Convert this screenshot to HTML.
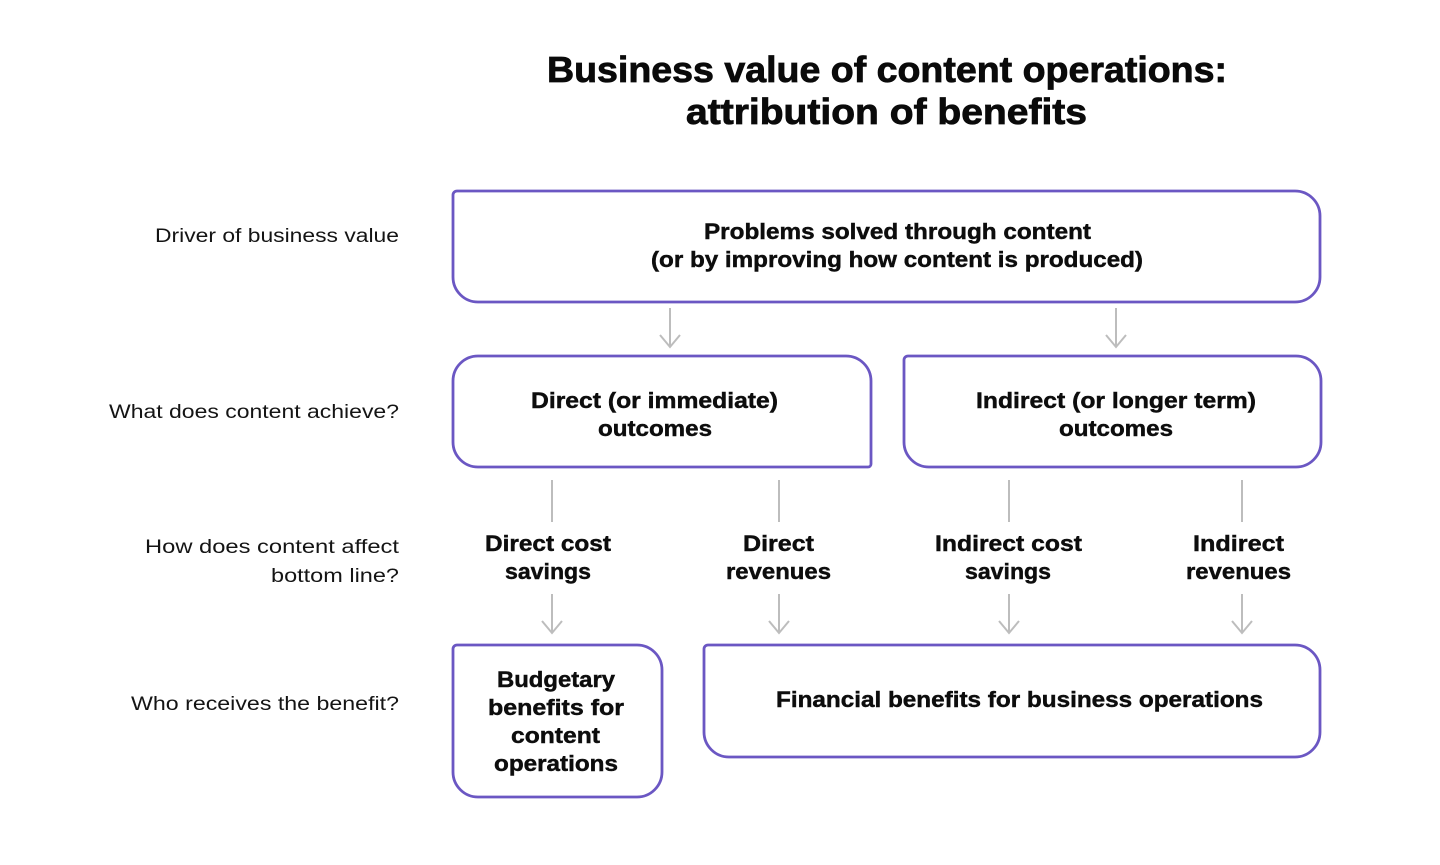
<!DOCTYPE html>
<html>
<head>
<meta charset="utf-8">
<style>
  html, body { margin: 0; padding: 0; background: #ffffff; }
  body { width: 1440px; height: 865px; overflow: hidden; }
  svg { display: block; }
  .t { font-family: "Liberation Sans", sans-serif; font-weight: bold; fill: #0a0a0a; stroke: #0a0a0a; stroke-width: 0.8; }
  .b { font-family: "Liberation Sans", sans-serif; font-weight: bold; font-size: 22px; fill: #0d0d0d; stroke: #0d0d0d; stroke-width: 0.45; }
  .l { font-family: "Liberation Sans", sans-serif; font-weight: normal; font-size: 19px; fill: #141414; }
  .box { fill: #ffffff; stroke: #6b57c3; stroke-width: 2.8; }
  .ar { fill: none; stroke: #bdbdbd; stroke-width: 2; stroke-linecap: butt; stroke-linejoin: miter; }
</style>
</head>
<body>
<svg width="1440" height="865" viewBox="0 0 1440 865" xmlns="http://www.w3.org/2000/svg">
  <rect x="0" y="0" width="1440" height="865" fill="#ffffff"/>

  <!-- Title -->
  <text class="t" font-size="36" x="547" y="82" textLength="680" lengthAdjust="spacingAndGlyphs">Business value of content operations:</text>
  <text class="t" font-size="36" x="686" y="124" textLength="401" lengthAdjust="spacingAndGlyphs">attribution of benefits</text>

  <!-- Left labels -->
  <text class="l" x="155" y="242" textLength="244" lengthAdjust="spacingAndGlyphs">Driver of business value</text>
  <text class="l" x="109" y="418" textLength="290" lengthAdjust="spacingAndGlyphs">What does content achieve?</text>
  <text class="l" x="145" y="553" textLength="254" lengthAdjust="spacingAndGlyphs">How does content affect</text>
  <text class="l" x="271" y="582" textLength="128" lengthAdjust="spacingAndGlyphs">bottom line?</text>
  <text class="l" x="131" y="710" textLength="268" lengthAdjust="spacingAndGlyphs">Who receives the benefit?</text>

  <!-- Boxes -->
  <path class="box" d="M457,191 H1295 A25 25 0 0 1 1320,216 V277 A25 25 0 0 1 1295,302 H478 A25 25 0 0 1 453,277 V195 A4 4 0 0 1 457,191 Z"/>
  <path class="box" d="M478,356 H846 A25 25 0 0 1 871,381 V464 A3 3 0 0 1 868,467 H478 A25 25 0 0 1 453,442 V381 A25 25 0 0 1 478,356 Z"/>
  <path class="box" d="M908,356 H1296 A25 25 0 0 1 1321,381 V442 A25 25 0 0 1 1296,467 H929 A25 25 0 0 1 904,442 V360 A4 4 0 0 1 908,356 Z"/>
  <path class="box" d="M457,645 H637 A25 25 0 0 1 662,670 V772 A25 25 0 0 1 637,797 H478 A25 25 0 0 1 453,772 V649 A4 4 0 0 1 457,645 Z"/>
  <path class="box" d="M708,645 H1295 A25 25 0 0 1 1320,670 V732 A25 25 0 0 1 1295,757 H729 A25 25 0 0 1 704,732 V649 A4 4 0 0 1 708,645 Z"/>

  <!-- Box texts -->
  <text class="b" x="704" y="239" textLength="387" lengthAdjust="spacingAndGlyphs">Problems solved through content</text>
  <text class="b" x="651" y="267" textLength="492" lengthAdjust="spacingAndGlyphs">(or by improving how content is produced)</text>

  <text class="b" x="531" y="408" textLength="247" lengthAdjust="spacingAndGlyphs">Direct (or immediate)</text>
  <text class="b" x="598" y="436" textLength="114" lengthAdjust="spacingAndGlyphs">outcomes</text>

  <text class="b" x="976" y="408" textLength="280" lengthAdjust="spacingAndGlyphs">Indirect (or longer term)</text>
  <text class="b" x="1059" y="436" textLength="114" lengthAdjust="spacingAndGlyphs">outcomes</text>

  <!-- Row 3 labels -->
  <text class="b" x="485" y="551" textLength="126" lengthAdjust="spacingAndGlyphs">Direct cost</text>
  <text class="b" x="505" y="579" textLength="86" lengthAdjust="spacingAndGlyphs">savings</text>
  <text class="b" x="743" y="551" textLength="71" lengthAdjust="spacingAndGlyphs">Direct</text>
  <text class="b" x="726" y="579" textLength="105" lengthAdjust="spacingAndGlyphs">revenues</text>
  <text class="b" x="935" y="551" textLength="147" lengthAdjust="spacingAndGlyphs">Indirect cost</text>
  <text class="b" x="965" y="579" textLength="86" lengthAdjust="spacingAndGlyphs">savings</text>
  <text class="b" x="1193" y="551" textLength="91" lengthAdjust="spacingAndGlyphs">Indirect</text>
  <text class="b" x="1186" y="579" textLength="105" lengthAdjust="spacingAndGlyphs">revenues</text>

  <!-- Bottom boxes text -->
  <text class="b" x="497" y="687" textLength="118" lengthAdjust="spacingAndGlyphs">Budgetary</text>
  <text class="b" x="488" y="715" textLength="136" lengthAdjust="spacingAndGlyphs">benefits for</text>
  <text class="b" x="511" y="743" textLength="89" lengthAdjust="spacingAndGlyphs">content</text>
  <text class="b" x="494" y="771" textLength="124" lengthAdjust="spacingAndGlyphs">operations</text>

  <text class="b" x="776" y="707" textLength="487" lengthAdjust="spacingAndGlyphs">Financial benefits for business operations</text>

  <!-- Top arrows -->
  <path class="ar" d="M670,308 V347 M660,335 L670,347 L680,335"/>
  <path class="ar" d="M1116,308 V347 M1106,335 L1116,347 L1126,335"/>

  <!-- Row 3 connector lines -->
  <path class="ar" d="M552,480 V522"/>
  <path class="ar" d="M779,480 V522"/>
  <path class="ar" d="M1009,480 V522"/>
  <path class="ar" d="M1242,480 V522"/>

  <!-- Bottom arrows -->
  <path class="ar" d="M552,594 V633 M542,621 L552,633 L562,621"/>
  <path class="ar" d="M779,594 V633 M769,621 L779,633 L789,621"/>
  <path class="ar" d="M1009,594 V633 M999,621 L1009,633 L1019,621"/>
  <path class="ar" d="M1242,594 V633 M1232,621 L1242,633 L1252,621"/>
</svg>
</body>
</html>
